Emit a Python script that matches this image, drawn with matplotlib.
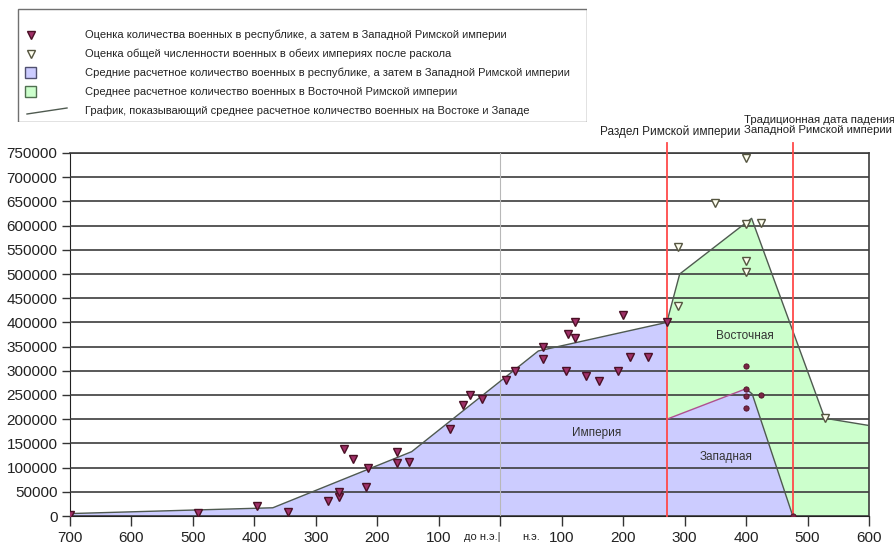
import matplotlib
matplotlib.use('Agg')
import matplotlib.pyplot as plt
from matplotlib.patches import Rectangle

plt.rcParams['font.family'] = ['Liberation Sans', 'DejaVu Sans']

# годы: отрицательные = до н.э.
# оценки численности армии республики, затем Западной империи
west_years = [-700, -491, -396, -345, -280, -263, -262, -255, -240, -218, -215,
              -168, -168, -148, -81, -60, -49, -30, 9, 24, 70, 70, 107, 111,
              121, 121, 139, 161, 192, 200, 211, 241, 271]
west_values = [3000, 6000, 20000, 8000, 30000, 39000, 50000, 138000, 118000,
               59000, 99000, 133000, 110000, 112000, 179000, 229000, 249000,
               242000, 280000, 300000, 325000, 350000, 300000, 376000, 400000,
               367000, 290000, 279000, 300000, 416000, 329000, 329000, 400000]
# поздние оценки для Запада (после раздела)
west_late_years = [400, 400, 400, 425, 400, 476]
west_late_values = [310000, 263000, 247000, 249000, 223000, 0]

# оценки общей численности обеих империй
total_years = [289, 289, 350, 400, 400, 425, 400, 400, 528]
total_values = [555000, 434000, 646000, 740000, 603000, 605000, 526000, 505000, 202000]

# средняя расчетная линия: республика / Западная империя
mean_w_years = [-700, -370, -144, 62, 271]
mean_w_values = [5000, 17000, 133000, 341000, 400000]
# Западная после раздела
west_after_years = [271, 400, 410, 476]
west_after_values = [200000, 263000, 252000, 0]
# сумма Восток + Запад
sum_years = [271, 292, 409, 528, 600]
sum_values = [400000, 500000, 615000, 202000, 187000]

split_year = 271
fall_year = 476

xticks = list(range(-700, 601, 100))
xlabels = ['700', '600', '500', '400', '300', '200', '100', '',
           '100', '200', '300', '400', '500', '600']
yticks = list(range(0, 750001, 50000))

fig = plt.figure(figsize=(8.95, 5.45), dpi=100)
ax = fig.add_axes([70 / 895, 29 / 545, 799 / 895, 363 / 545])

# заливки
ax.fill(sum_years + [600, 271], sum_values + [0, 0], color='#ccffcc', lw=0, zorder=1)
blue_x = mean_w_years + west_after_years
blue_y = mean_w_values + west_after_values
ax.fill(blue_x + [-700], blue_y + [0], color='#ccccff', lw=0, zorder=2)

ax.axvline(0, color='#b8b8b8', lw=0.8, zorder=2.6)

# линии средних
ax.plot(mean_w_years, mean_w_values, color='#4f5a50', lw=1, zorder=4)
ax.plot(west_after_years[:2], west_after_values[:2], color='#b0508f', lw=1, zorder=4)
ax.plot(west_after_years[1:], west_after_values[1:], color='#4f5a50', lw=1, zorder=4)
ax.plot(sum_years, sum_values, color='#4f5a50', lw=1, zorder=4)

# красные линии событий
for yr in (split_year, fall_year):
    ax.plot([yr, yr], [0, 770000], color='#ff4a4a', lw=1.3, clip_on=False, zorder=5)

# точки
ax.plot(west_years, west_values, 'v', ms=6, mfc='#a03068', mec='#4a1025',
        mew=1, ls='none', zorder=6)
ax.plot(west_late_years, west_late_values, 'o', ms=3.8, mfc='#7a2545', mec='#4a1025',
        mew=0.6, ls='none', zorder=6)
ax.plot(total_years, total_values, 'v', ms=5.5, mfc='#fffff0', mec='#555540',
        mew=1, ls='none', zorder=6)

ax.text(157, 172000, 'Империя', ha='center', va='center', fontsize=8.5, color='#333', zorder=7)
ax.text(398, 372000, 'Восточная', ha='center', va='center', fontsize=8.5, color='#333', zorder=7)
ax.text(368, 121000, 'Западная', ha='center', va='center', fontsize=8.5, color='#333', zorder=7)

ax.text(276, 794000, 'Раздел Римской империи', ha='center', va='center',
        fontsize=8.5, color='#222', clip_on=False)
ax.text(396, 808000, 'Традиционная дата падения\nЗападной Римской империи',
        ha='left', va='center', fontsize=8.2, color='#222', linespacing=1.0,
        clip_on=False)

ax.set_xlim(-700, 600)
ax.set_ylim(0, 750000)
ax.set_xticks(xticks)
ax.set_xticklabels(xlabels)
ax.set_yticks(yticks)
ax.set_yticklabels([str(v) for v in yticks])
ax.set_axisbelow(False)
ax.yaxis.grid(True, color='#3c3c3c', lw=1.2)
ax.tick_params(direction='out', length=6, width=1, color='#333',
               labelsize=11, labelcolor='#222', pad=3)
ax.tick_params(axis='x', length=7, pad=4)

trans = ax.get_xaxis_transform()
ax.text(0, -0.058, 'до н.э.|', transform=trans, ha='right', va='center',
        fontsize=8, color='#222')
ax.text(50, -0.058, 'н.э.', transform=trans, ha='center', va='center',
        fontsize=8, color='#222')

for s in ('left', 'bottom'):
    ax.spines[s].set_color('#222')
for s in ('top', 'right'):
    ax.spines[s].set_color('#3c3c3c')
    ax.spines[s].set_linewidth(1.2)

# легенда вручную
lax = fig.add_axes([17 / 895, 1 - 122 / 545, 570 / 895, 114 / 545])
lax.set_xlim(0, 570)
lax.set_ylim(114, 0)
lax.axis('off')
lax.add_patch(Rectangle((0.5, 0.5), 569, 113, fill=False, ec='#707070', lw=1))
rows = [
    'Оценка количества военных в республике, а затем в Западной Римской империи',
    'Оценка общей численности военных в обеих империях после раскола',
    'Средние расчетное количество военных в республике, а затем в Западной Римской империи',
    'Среднее расчетное количество военных в Восточной Римской империи',
    'График, показывающий среднее расчетное количество военных на Востоке и Западе',
]
for i, label in enumerate(rows):
    y = 27 + i * 19
    lax.text(68, y, label, va='center', ha='left', fontsize=8, color='#222')
lax.plot([14], [27], 'v', ms=6, mfc='#a03068', mec='#4a1025')
lax.plot([14], [46], 'v', ms=5.5, mfc='#fffff0', mec='#555540')
lax.add_patch(Rectangle((8, 59), 11, 11, fc='#ccccff', ec='#505070', lw=1))
lax.add_patch(Rectangle((8, 78), 11, 11, fc='#ccffcc', ec='#507050', lw=1))
lax.plot([10, 50], [106, 100], color='#4f5a50', lw=1)

fig.savefig('out.png', dpi=100)
